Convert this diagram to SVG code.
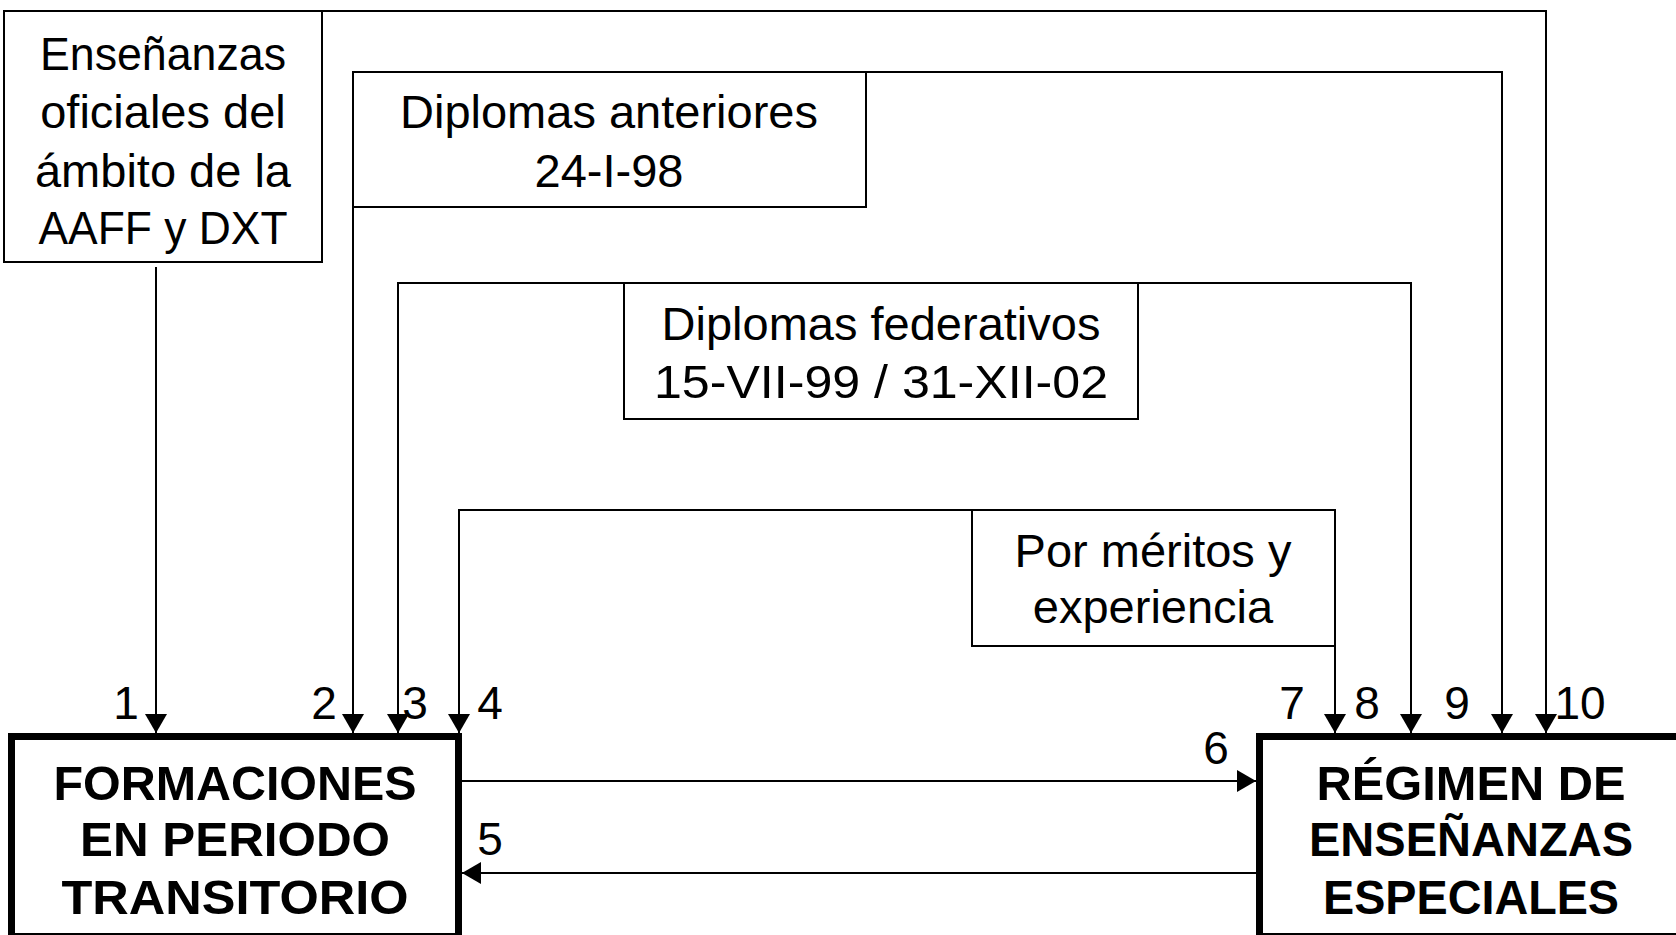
<svg xmlns="http://www.w3.org/2000/svg" width="1676" height="935" viewBox="0 0 1676 935">
<defs>
<style>
.bg{fill:#fff}
.box{fill:#fff;stroke:#000;stroke-width:2}
.main{fill:#fff;stroke:#000;stroke-width:7}
.con{fill:none;stroke:#000;stroke-width:2}
.t{font-family:"Liberation Sans",Arial,sans-serif;font-size:47px;fill:#000;text-anchor:middle}
.b{font-family:"Liberation Sans",Arial,sans-serif;font-size:48px;font-weight:bold;fill:#000;text-anchor:middle}
.n{font-family:"Liberation Sans",Arial,sans-serif;font-size:46px;fill:#000;text-anchor:middle}
</style>
<marker id="ah" markerUnits="userSpaceOnUse" markerWidth="20" markerHeight="22" refX="19" refY="11" orient="auto">
<path d="M0,0 L19,11 L0,22 z" fill="#000"/>
</marker>
</defs>
<rect class="bg" x="0" y="0" width="1676" height="935"/>
<g id="connectors">
<path class="con" d="M156,267 V733" marker-end="url(#ah)"/>
<path class="con" d="M353,207 V733" marker-end="url(#ah)"/>
<path class="con" d="M624,283 H398 V733" marker-end="url(#ah)"/>
<path class="con" d="M972,510 H459 V733" marker-end="url(#ah)"/>
<path class="con" d="M1335,646 V733" marker-end="url(#ah)"/>
<path class="con" d="M1138,283 H1411 V733" marker-end="url(#ah)"/>
<path class="con" d="M866,72 H1502 V733" marker-end="url(#ah)"/>
<path class="con" d="M322,11 H1546 V733" marker-end="url(#ah)"/>
<path class="con" d="M462,781 H1256" marker-end="url(#ah)"/>
<path class="con" d="M1256,873 H462" marker-end="url(#ah)"/>
</g>
<g id="labels">
<text class="n" x="126" y="719">1</text>
<text class="n" x="324" y="719">2</text>
<text class="n" x="415" y="719">3</text>
<text class="n" x="490" y="719">4</text>
<text class="n" x="490" y="855">5</text>
<text class="n" x="1216" y="764">6</text>
<text class="n" x="1292" y="719">7</text>
<text class="n" x="1367" y="719">8</text>
<text class="n" x="1457" y="719">9</text>
<text class="n" x="1580" y="719">10</text>
</g>
<g id="ensenanzas">
<rect class="box" x="4" y="11" width="318" height="251"/>
<text class="t" x="163" y="70" textLength="246" lengthAdjust="spacingAndGlyphs">Enseñanzas</text>
<text class="t" x="163" y="128">oficiales del</text>
<text class="t" x="163" y="187">ámbito de la</text>
<text class="t" x="163" y="244" textLength="249" lengthAdjust="spacingAndGlyphs">AAFF y DXT</text>
</g>
<g id="diplomas-anteriores">
<rect class="box" x="353" y="72" width="513" height="135"/>
<text class="t" x="609" y="128">Diplomas anteriores</text>
<text class="t" x="609" y="187">24-I-98</text>
</g>
<g id="diplomas-federativos">
<rect class="box" x="624" y="283" width="514" height="136"/>
<text class="t" x="881" y="340">Diplomas federativos</text>
<text class="t" x="881" y="398" textLength="454" lengthAdjust="spacingAndGlyphs">15-VII-99 / 31-XII-02</text>
</g>
<g id="meritos">
<rect class="box" x="972" y="510" width="363" height="136"/>
<text class="t" x="1153" y="567">Por méritos y</text>
<text class="t" x="1153" y="623">experiencia</text>
</g>
<g id="formaciones">
<rect class="main" x="11.5" y="736.5" width="447" height="200"/>
<text class="b" x="235" y="800" textLength="363" lengthAdjust="spacingAndGlyphs">FORMACIONES</text>
<text class="b" x="235" y="856" textLength="310" lengthAdjust="spacingAndGlyphs">EN PERIODO</text>
<text class="b" x="235" y="914" textLength="347" lengthAdjust="spacingAndGlyphs">TRANSITORIO</text>
</g>
<g id="regimen">
<rect class="main" x="1259.5" y="736.5" width="430" height="200"/>
<text class="b" x="1471" y="800" textLength="309" lengthAdjust="spacingAndGlyphs">RÉGIMEN DE</text>
<text class="b" x="1471" y="856" textLength="324" lengthAdjust="spacingAndGlyphs">ENSEÑANZAS</text>
<text class="b" x="1471" y="914" textLength="296" lengthAdjust="spacingAndGlyphs">ESPECIALES</text>
</g>
</svg>
